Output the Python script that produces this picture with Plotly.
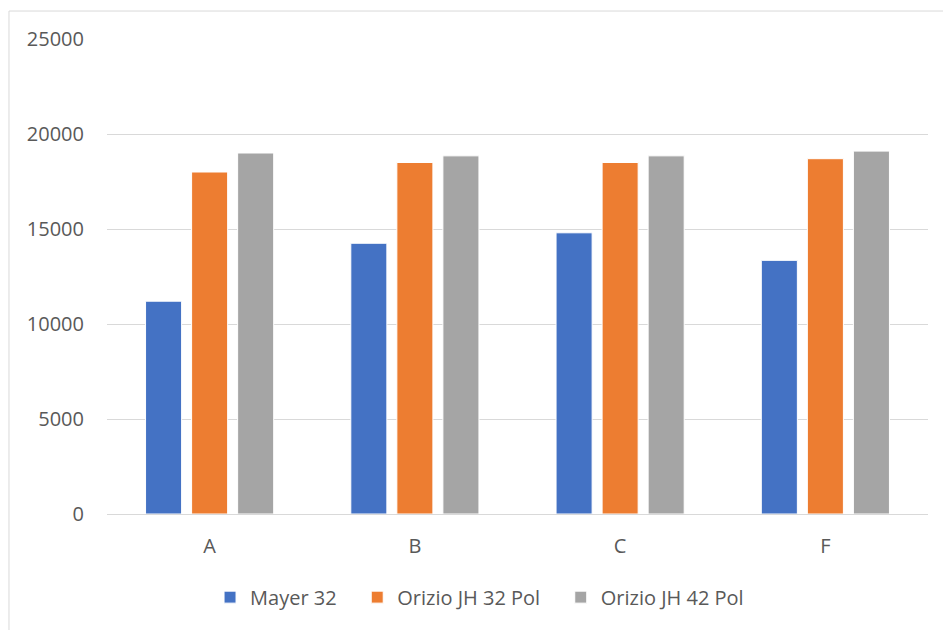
import plotly.graph_objects as go

categories = ["A", "B", "C", "F"]
mayer_32 = [11200, 14250, 14800, 13350]
orizio_jh_32_pol = [18000, 18500, 18500, 18700]
orizio_jh_42_pol = [19000, 18850, 18850, 19100]
series_names = ["Mayer 32", "Orizio JH 32 Pol", "Orizio JH 42 Pol"]

series = [
    (series_names[0], mayer_32, "#4472C4"),
    (series_names[1], orizio_jh_32_pol, "#ED7D31"),
    (series_names[2], orizio_jh_42_pol, "#A5A5A5"),
]

pad = "\u00a0\u00a0\u00a0"

fig = go.Figure()
for name, vals, col in series:
    fig.add_trace(go.Bar(
        x=categories, y=vals, name=name + pad,
        marker=dict(color=col, line=dict(color="white", width=1)),
    ))

font_fam = "Open Sans, Segoe UI, Arial, sans-serif"
txt_col = "#595959"

fig.update_layout(
    width=943, height=630,
    margin=dict(l=107, r=15, t=39, b=116),
    paper_bgcolor="white", plot_bgcolor="white",
    barmode="group", bargap=0.327, bargroupgap=0.217,
    font=dict(family=font_fam, size=20, color=txt_col),
    showlegend=True,
    legend=dict(
        orientation="h", x=0.1255, xanchor="left", y=-0.175, yanchor="middle",
        font=dict(family=font_fam, size=20, color=txt_col),
        itemwidth=30, traceorder="normal",
    ),
    xaxis=dict(
        showgrid=False, showline=True, linecolor="#d9d9d9", linewidth=1,
        ticks="", tickfont=dict(size=20, color=txt_col), ticklabelstandoff=14,
    ),
    yaxis=dict(
        range=[0, 25000], tick0=0, dtick=5000, showgrid=True,
        gridcolor="#d9d9d9", gridwidth=1, zeroline=False, showline=False,
        ticks="", tickfont=dict(size=20, color=txt_col), ticklabelstandoff=22,
        tickformat="d",
    ),
    shapes=[
        dict(type="rect", xref="paper", yref="paper",
             x0=-0.1194, x1=1.2, y0=-0.3, y1=1.0589,
             line=dict(color="#d9d9d9", width=1), fillcolor="rgba(0,0,0,0)",
             layer="below"),
    ],
)

fig.write_html("out.html")
